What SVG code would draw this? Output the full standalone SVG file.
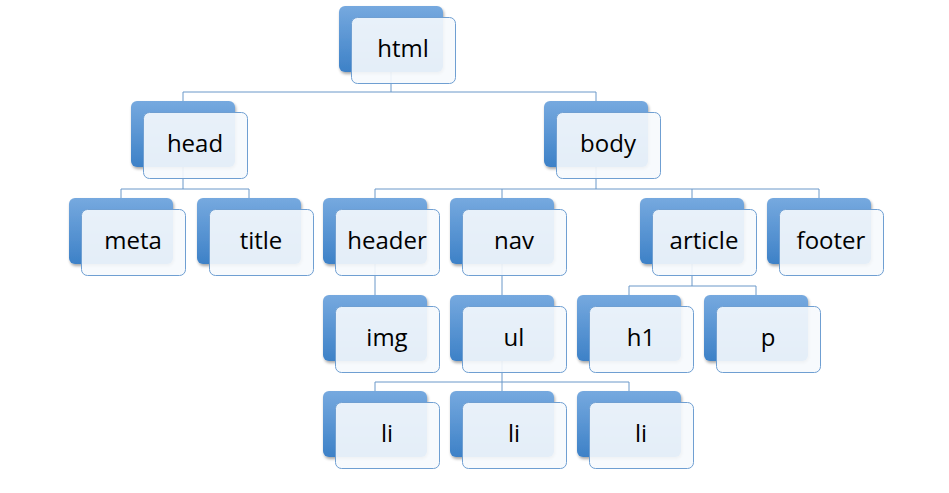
<svg xmlns="http://www.w3.org/2000/svg" width="949" height="493" viewBox="0 0 949 493">
<defs>
<linearGradient id="bg" x1="0" y1="0" x2="0" y2="1">
<stop offset="0" stop-color="#76a9df"/>
<stop offset="1" stop-color="#3d81c7"/>
</linearGradient>
<filter id="sh" x="-10%" y="-10%" width="130%" height="130%">
<feGaussianBlur in="SourceAlpha" stdDeviation="1.5"/>
<feOffset dx="1" dy="2"/>
<feComponentTransfer><feFuncA type="linear" slope="0.35"/></feComponentTransfer>
<feMerge><feMergeNode/><feMergeNode in="SourceGraphic"/></feMerge>
</filter>
</defs>
<style>
.back{fill:url(#bg);filter:url(#sh);}
.front{fill:#f6f9fd;fill-opacity:0.9;stroke:#6f9fd2;stroke-width:1;}
.lbl{font-family:"Open Sans","Liberation Sans",sans-serif;font-size:24px;fill:#000;text-anchor:middle;}
.conn path{fill:none;stroke:#6a98c9;stroke-width:1;}
</style>
<rect width="949" height="493" fill="#ffffff"/>
<g class="conn" id="connectors">
<path d="M391 72V92M183 92H596M183 92V101M596 92V101"/>
<path d="M183 167V189M121 189H249M121 189V198M249 189V198"/>
<path d="M596 167V189M375 189H819M375 189V198M502 189V198M692 189V198M819 189V198"/>
<path d="M375 264V295M502 264V295"/>
<path d="M692 264V286M629 286H756M629 286V295M756 286V295"/>
<path d="M502 361V382M375 382H629M375 382V391M502 382V391M629 382V391"/>
</g>
<g id="html" transform="translate(339,6)"><rect class="back" width="104" height="66" rx="6"/><rect class="front" x="12.5" y="11.5" width="104" height="66" rx="6"/><text class="lbl" x="64" y="51">html</text></g>
<g id="head" transform="translate(131,101)"><rect class="back" width="104" height="66" rx="6"/><rect class="front" x="12.5" y="11.5" width="104" height="66" rx="6"/><text class="lbl" x="64" y="51">head</text></g>
<g id="body" transform="translate(544,101)"><rect class="back" width="104" height="66" rx="6"/><rect class="front" x="12.5" y="11.5" width="104" height="66" rx="6"/><text class="lbl" x="64" y="51">body</text></g>
<g id="meta" transform="translate(69,198)"><rect class="back" width="104" height="66" rx="6"/><rect class="front" x="12.5" y="11.5" width="104" height="66" rx="6"/><text class="lbl" x="64" y="51">meta</text></g>
<g id="title" transform="translate(197,198)"><rect class="back" width="104" height="66" rx="6"/><rect class="front" x="12.5" y="11.5" width="104" height="66" rx="6"/><text class="lbl" x="64" y="51">title</text></g>
<g id="header" transform="translate(323,198)"><rect class="back" width="104" height="66" rx="6"/><rect class="front" x="12.5" y="11.5" width="104" height="66" rx="6"/><text class="lbl" x="64" y="51">header</text></g>
<g id="nav" transform="translate(450,198)"><rect class="back" width="104" height="66" rx="6"/><rect class="front" x="12.5" y="11.5" width="104" height="66" rx="6"/><text class="lbl" x="64" y="51">nav</text></g>
<g id="article" transform="translate(640,198)"><rect class="back" width="104" height="66" rx="6"/><rect class="front" x="12.5" y="11.5" width="104" height="66" rx="6"/><text class="lbl" x="64" y="51">article</text></g>
<g id="footer" transform="translate(767,198)"><rect class="back" width="104" height="66" rx="6"/><rect class="front" x="12.5" y="11.5" width="104" height="66" rx="6"/><text class="lbl" x="64" y="51">footer</text></g>
<g id="img" transform="translate(323,295)"><rect class="back" width="104" height="66" rx="6"/><rect class="front" x="12.5" y="11.5" width="104" height="66" rx="6"/><text class="lbl" x="64" y="51">img</text></g>
<g id="ul" transform="translate(450,295)"><rect class="back" width="104" height="66" rx="6"/><rect class="front" x="12.5" y="11.5" width="104" height="66" rx="6"/><text class="lbl" x="64" y="51">ul</text></g>
<g id="h1" transform="translate(577,295)"><rect class="back" width="104" height="66" rx="6"/><rect class="front" x="12.5" y="11.5" width="104" height="66" rx="6"/><text class="lbl" x="64" y="51">h1</text></g>
<g id="p" transform="translate(704,295)"><rect class="back" width="104" height="66" rx="6"/><rect class="front" x="12.5" y="11.5" width="104" height="66" rx="6"/><text class="lbl" x="64" y="51">p</text></g>
<g id="li1" transform="translate(323,391)"><rect class="back" width="104" height="66" rx="6"/><rect class="front" x="12.5" y="11.5" width="104" height="66" rx="6"/><text class="lbl" x="64" y="51">li</text></g>
<g id="li2" transform="translate(450,391)"><rect class="back" width="104" height="66" rx="6"/><rect class="front" x="12.5" y="11.5" width="104" height="66" rx="6"/><text class="lbl" x="64" y="51">li</text></g>
<g id="li3" transform="translate(577,391)"><rect class="back" width="104" height="66" rx="6"/><rect class="front" x="12.5" y="11.5" width="104" height="66" rx="6"/><text class="lbl" x="64" y="51">li</text></g>
</svg>
